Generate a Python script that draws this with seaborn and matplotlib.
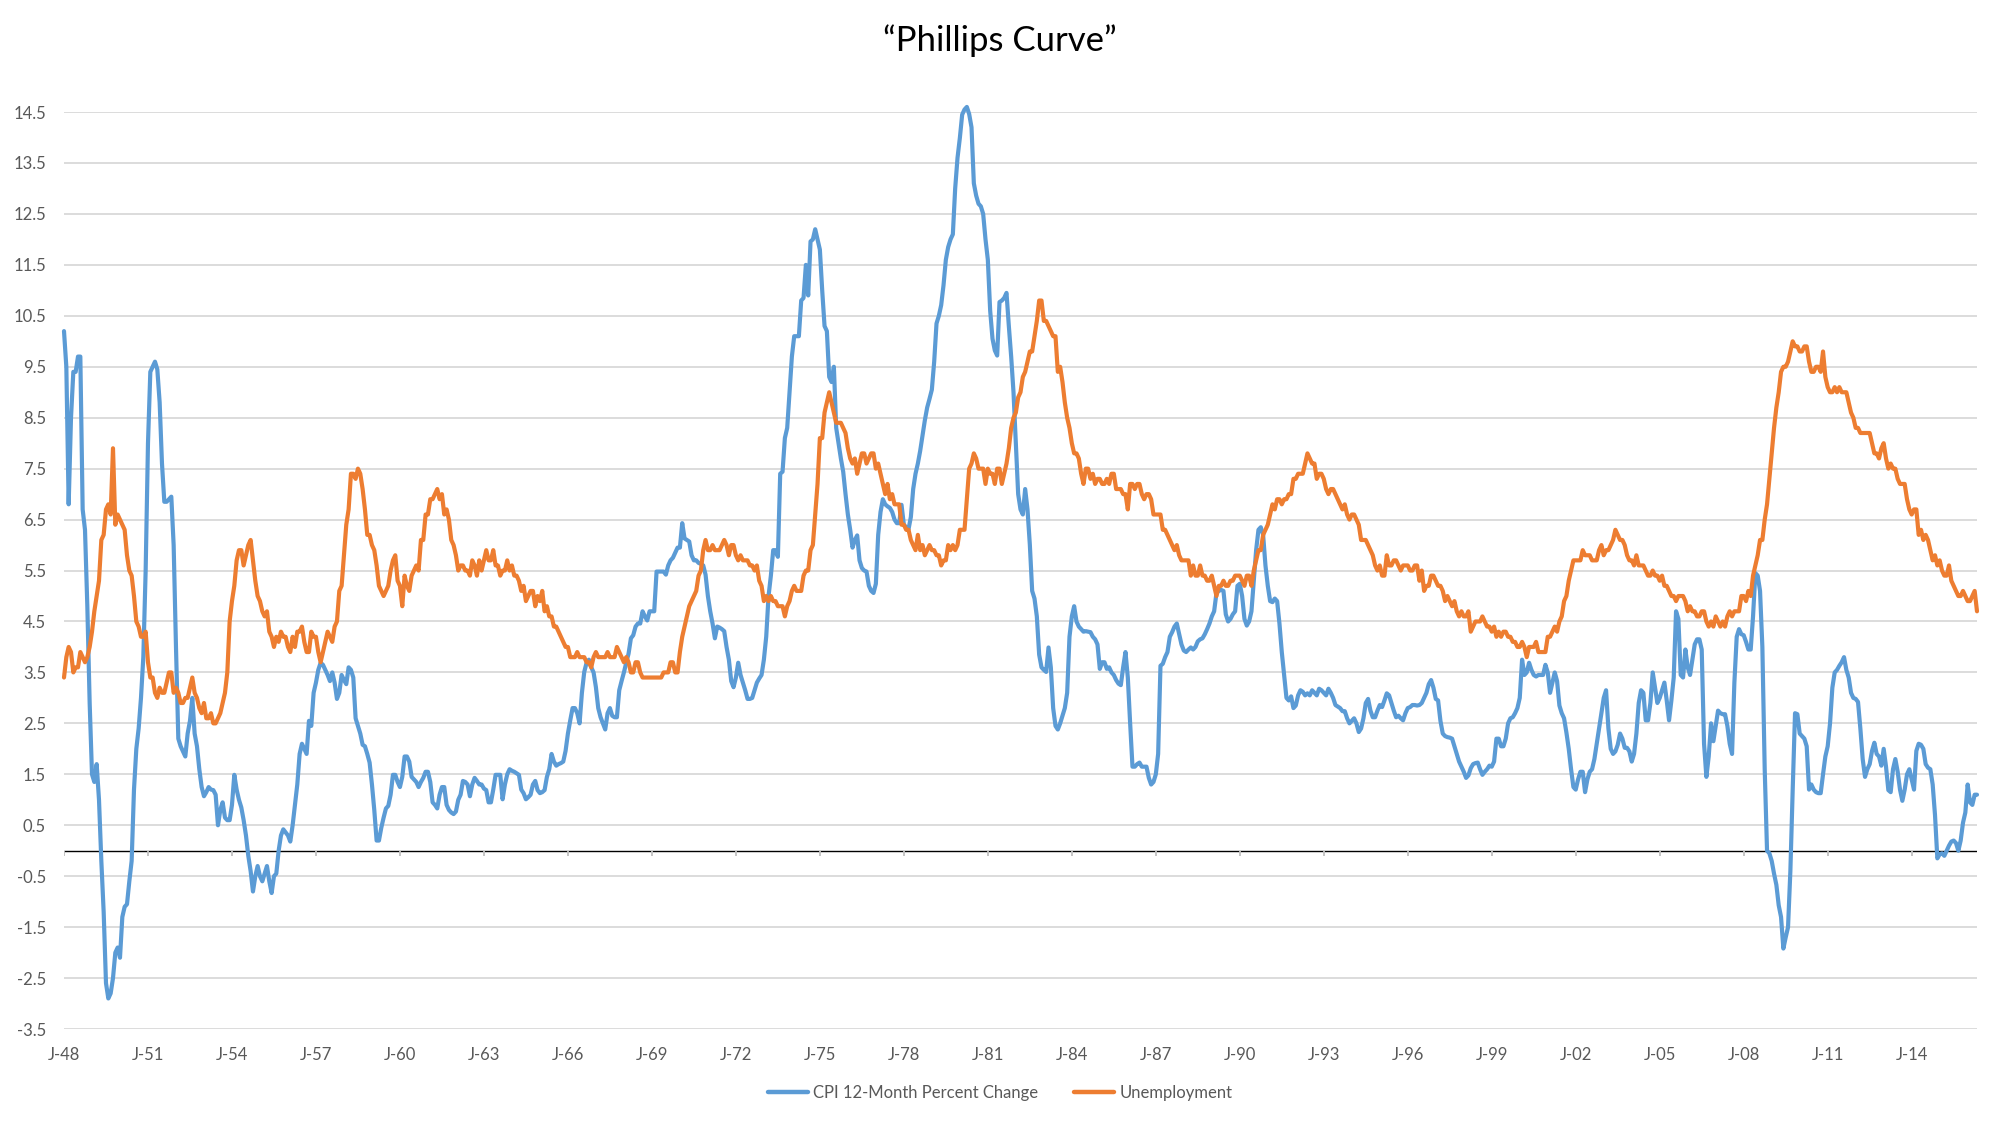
import numpy as np
import pandas as pd
import matplotlib
matplotlib.use("Agg")
import matplotlib.pyplot as plt
import seaborn as sns
from matplotlib.lines import Line2D

# ---------------- data (monthly, Jan 1948 - May 2016) ----------------
series_names = ["CPI 12-Month Percent Change", "Unemployment"]
tick_labels = ["J-48", "J-51", "J-54", "J-57", "J-60", "J-63", "J-66", "J-69",
               "J-72", "J-75", "J-78", "J-81", "J-84", "J-87", "J-90", "J-93",
               "J-96", "J-99", "J-02", "J-05", "J-08", "J-11", "J-14"]
y_ticks = [-3.5, -2.5, -1.5, -0.5, 0.5, 1.5, 2.5, 3.5, 4.5, 5.5, 6.5, 7.5,
           8.5, 9.5, 10.5, 11.5, 12.5, 13.5, 14.5]

cpi_1948_1957 = [
    10.2, 9.5, 6.8, 8.5, 9.4, 9.4, 9.7, 9.7, 6.7, 6.3, 4.8, 2.9,
    1.5, 1.35, 1.7, 1.0, -0.2, -1.2, -2.6, -2.9, -2.8, -2.5, -2.0, -1.9,
    -2.1, -1.3, -1.1, -1.05, -0.6, -0.2, 1.2, 2.0, 2.4, 3.0, 3.8, 5.5,
    8.0, 9.4, 9.5, 9.6, 9.45, 8.8, 7.6, 6.85, 6.85, 6.9, 6.95, 6.0,
    4.0, 2.2, 2.05, 1.95, 1.85, 2.3, 2.55, 3.0, 2.3, 2.05, 1.6, 1.25,
    1.07, 1.15, 1.25, 1.2, 1.19, 1.1, 0.5, 0.8, 0.95, 0.65, 0.6, 0.6,
    0.9, 1.49, 1.2, 1.0, 0.85, 0.6, 0.3, -0.1, -0.4, -0.8, -0.5, -0.3,
    -0.5, -0.6, -0.45, -0.3, -0.6, -0.83, -0.5, -0.45, 0.0, 0.3, 0.42, 0.36,
    0.3, 0.18, 0.5, 0.9, 1.3, 1.9, 2.1, 2.0, 1.9, 2.55, 2.45, 3.1,
    3.3, 3.55, 3.69, 3.65, 3.55, 3.45, 3.33, 3.5, 3.3, 2.98, 3.1, 3.45]
cpi_1958_1967 = [
    3.35, 3.27, 3.6, 3.55, 3.4, 2.6, 2.45, 2.3, 2.08, 2.05, 1.9, 1.73,
    1.3, 0.8, 0.2, 0.2, 0.45, 0.65, 0.83, 0.88, 1.1, 1.49, 1.49, 1.35,
    1.25, 1.45, 1.85, 1.85, 1.75, 1.45, 1.4, 1.35, 1.25, 1.35, 1.43, 1.55,
    1.55, 1.35, 0.95, 0.9, 0.83, 1.1, 1.25, 1.25, 0.9, 0.8, 0.75, 0.72,
    0.77, 1.0, 1.1, 1.37, 1.35, 1.3, 1.07, 1.3, 1.43, 1.37, 1.3, 1.3,
    1.22, 1.19, 0.95, 0.95, 1.2, 1.49, 1.49, 1.49, 1.01, 1.3, 1.5, 1.6,
    1.57, 1.55, 1.52, 1.49, 1.2, 1.13, 1.01, 1.05, 1.1, 1.3, 1.37, 1.19,
    1.13, 1.15, 1.19, 1.45, 1.6, 1.9, 1.75, 1.67, 1.7, 1.72, 1.75, 1.96,
    2.3, 2.56, 2.8, 2.8, 2.7, 2.5, 3.1, 3.51, 3.69, 3.75, 3.6, 3.5,
    3.21, 2.8, 2.62, 2.5, 2.38, 2.7, 2.8, 2.65, 2.62, 2.62, 3.15, 3.33]
cpi_1968_1977 = [
    3.5, 3.69, 3.87, 4.17, 4.23, 4.4, 4.46, 4.46, 4.7, 4.6, 4.52, 4.7,
    4.7, 4.7, 5.48, 5.48, 5.48, 5.48, 5.42, 5.6, 5.7, 5.75, 5.85, 5.95,
    5.95, 6.43, 6.13, 6.1, 6.07, 5.8, 5.7, 5.7, 5.65, 5.63, 5.6, 5.42,
    5.0, 4.7, 4.46, 4.17, 4.4, 4.38, 4.35, 4.31, 4.0, 3.75, 3.33, 3.21,
    3.4, 3.69, 3.45, 3.3, 3.15, 2.98, 2.98, 3.0, 3.15, 3.3, 3.38, 3.45,
    3.75, 4.2, 5.0, 5.4, 5.9, 5.9, 5.77, 7.4, 7.44, 8.1, 8.3, 9.0,
    9.7, 10.1, 10.1, 10.1, 10.8, 10.85, 11.5, 10.9, 11.96, 12.0, 12.2, 12.0,
    11.8, 11.0, 10.3, 10.2, 9.3, 9.2, 9.5, 8.3, 8.0, 7.7, 7.44, 7.0,
    6.6, 6.3, 5.95, 6.1, 6.19, 5.7, 5.55, 5.5, 5.48, 5.2, 5.1, 5.06,
    5.24, 6.2, 6.65, 6.9, 6.8, 6.76, 6.73, 6.65, 6.5, 6.43, 6.43, 6.79]
cpi_1978_1987 = [
    6.4, 6.35, 6.31, 6.55, 7.1, 7.4, 7.6, 7.85, 8.15, 8.45, 8.7, 8.87,
    9.05, 9.6, 10.35, 10.5, 10.71, 11.1, 11.6, 11.85, 12.0, 12.1, 13.0, 13.6,
    13.99, 14.45, 14.55, 14.6, 14.46, 14.2, 13.1, 12.86, 12.7, 12.65, 12.5, 12.0,
    11.6, 10.6, 10.05, 9.82, 9.72, 10.77, 10.8, 10.85, 10.95, 10.3, 9.7, 9.0,
    8.0, 7.0, 6.7, 6.6, 7.1, 6.7, 6.01, 5.1, 4.95, 4.6, 3.85, 3.6,
    3.55, 3.51, 3.99, 3.6, 2.8, 2.45, 2.38, 2.5, 2.65, 2.8, 3.1, 4.2,
    4.6, 4.8, 4.5, 4.4, 4.35, 4.3, 4.31, 4.3, 4.29, 4.2, 4.15, 4.05,
    3.57, 3.7, 3.7, 3.57, 3.6, 3.5, 3.45, 3.35, 3.28, 3.25, 3.6, 3.9,
    3.4, 2.5, 1.65, 1.65, 1.7, 1.73, 1.65, 1.65, 1.65, 1.43, 1.3, 1.35,
    1.5, 1.9, 3.63, 3.67, 3.8, 3.9, 4.2, 4.29, 4.4, 4.46, 4.25, 4.05]
cpi_1988_1997 = [
    3.93, 3.9, 3.95, 3.99, 3.95, 4.0, 4.11, 4.15, 4.17, 4.25, 4.35, 4.46,
    4.6, 4.7, 5.06, 5.1, 5.12, 5.1, 4.64, 4.5, 4.55, 4.64, 4.7, 5.2,
    5.24, 5.0, 4.55, 4.42, 4.5, 4.7, 5.3, 5.9, 6.3, 6.35, 6.2, 5.6,
    5.2, 4.9, 4.88, 4.95, 4.9, 4.46, 3.9, 3.45, 3.0, 2.95, 3.03, 2.8,
    2.85, 3.05, 3.15, 3.12, 3.05, 3.09, 3.05, 3.15, 3.1, 3.05, 3.18, 3.15,
    3.1, 3.05, 3.18, 3.1, 3.0, 2.86, 2.83, 2.8, 2.74, 2.74, 2.6, 2.5,
    2.55, 2.6, 2.5, 2.33, 2.4, 2.6, 2.9, 2.98, 2.75, 2.62, 2.62, 2.75,
    2.86, 2.82, 2.95, 3.09, 3.05, 2.9, 2.75, 2.62, 2.65, 2.6, 2.56, 2.7,
    2.8, 2.82, 2.86, 2.86, 2.85, 2.86, 2.9, 3.0, 3.1, 3.27, 3.35, 3.2,
    2.98, 2.95, 2.55, 2.3, 2.25, 2.23, 2.22, 2.2, 2.05, 1.9, 1.75, 1.65]
cpi_1998_2007 = [
    1.55, 1.43, 1.48, 1.62, 1.7, 1.72, 1.73, 1.6, 1.49, 1.55, 1.6, 1.67,
    1.65, 1.75, 2.2, 2.2, 2.05, 2.05, 2.2, 2.5, 2.6, 2.62, 2.7, 2.8,
    3.0, 3.75, 3.45, 3.5, 3.69, 3.55, 3.45, 3.42, 3.45, 3.45, 3.45, 3.65,
    3.5, 3.1, 3.3, 3.5, 3.33, 2.85, 2.7, 2.6, 2.32, 2.0, 1.6, 1.25,
    1.2, 1.4, 1.55, 1.55, 1.15, 1.4, 1.55, 1.6, 1.8, 2.1, 2.4, 2.7,
    3.0, 3.15, 2.4, 2.0, 1.9, 1.95, 2.08, 2.3, 2.2, 2.02, 2.02, 1.95,
    1.75, 1.9, 2.3, 2.9, 3.15, 3.1, 2.56, 2.56, 2.9, 3.5, 3.2, 2.9,
    3.0, 3.15, 3.3, 2.95, 2.56, 2.95, 3.4, 4.7, 4.55, 3.45, 3.4, 3.95,
    3.6, 3.45, 3.75, 4.05, 4.15, 4.15, 3.95, 2.1, 1.45, 1.85, 2.5, 2.15,
    2.45, 2.75, 2.7, 2.68, 2.68, 2.45, 2.1, 1.9, 3.3, 4.2, 4.35, 4.25]
cpi_2008_2016 = [
    4.23, 4.1, 3.95, 3.95, 4.6, 5.45, 5.4, 5.1, 4.0, 1.6, 0.0, -0.05,
    -0.2, -0.45, -0.67, -1.07, -1.3, -1.92, -1.7, -1.5, -0.4, 1.2, 2.7, 2.68,
    2.3, 2.25, 2.2, 2.05, 1.2, 1.3, 1.2, 1.15, 1.13, 1.13, 1.5, 1.85,
    2.05, 2.5, 3.2, 3.5, 3.55, 3.63, 3.7, 3.8, 3.55, 3.4, 3.1, 3.0,
    2.98, 2.92, 2.4, 1.8, 1.45, 1.6, 1.7, 1.96, 2.12, 1.9, 1.85, 1.67,
    2.0, 1.65, 1.19, 1.15, 1.6, 1.8, 1.55, 1.2, 0.98, 1.2, 1.5, 1.6,
    1.4, 1.2, 1.96, 2.1, 2.08, 2.0, 1.7, 1.63, 1.6, 1.3, 0.7, -0.15,
    -0.07, -0.05, -0.1, 0.0, 0.1, 0.18, 0.2, 0.15, 0.0, 0.2, 0.55, 0.75,
    1.3, 0.95, 0.9, 1.1, 1.1]

unemp_1948_1957 = [
    3.4, 3.8, 4.0, 3.9, 3.5, 3.6, 3.6, 3.9, 3.8, 3.7, 3.8, 4.0,
    4.3, 4.7, 5.0, 5.3, 6.1, 6.2, 6.7, 6.8, 6.6, 7.9, 6.4, 6.6,
    6.5, 6.4, 6.3, 5.8, 5.5, 5.4, 5.0, 4.5, 4.4, 4.2, 4.2, 4.3,
    3.7, 3.4, 3.4, 3.1, 3.0, 3.2, 3.1, 3.1, 3.3, 3.5, 3.5, 3.1,
    3.2, 3.1, 2.9, 2.9, 3.0, 3.0, 3.2, 3.4, 3.1, 3.0, 2.8, 2.7,
    2.9, 2.6, 2.6, 2.7, 2.5, 2.5, 2.6, 2.7, 2.9, 3.1, 3.5, 4.5,
    4.9, 5.2, 5.7, 5.9, 5.9, 5.6, 5.8, 6.0, 6.1, 5.7, 5.3, 5.0,
    4.9, 4.7, 4.6, 4.7, 4.3, 4.2, 4.0, 4.2, 4.1, 4.3, 4.2, 4.2,
    4.0, 3.9, 4.2, 4.0, 4.3, 4.3, 4.4, 4.1, 3.9, 3.9, 4.3, 4.2,
    4.2, 3.9, 3.7, 3.9, 4.1, 4.3, 4.2, 4.1, 4.4, 4.5, 5.1, 5.2]
unemp_1958_1967 = [
    5.8, 6.4, 6.7, 7.4, 7.4, 7.3, 7.5, 7.4, 7.1, 6.7, 6.2, 6.2,
    6.0, 5.9, 5.6, 5.2, 5.1, 5.0, 5.1, 5.2, 5.5, 5.7, 5.8, 5.3,
    5.2, 4.8, 5.4, 5.2, 5.1, 5.4, 5.5, 5.6, 5.5, 6.1, 6.1, 6.6,
    6.6, 6.9, 6.9, 7.0, 7.1, 6.9, 7.0, 6.6, 6.7, 6.5, 6.1, 6.0,
    5.8, 5.5, 5.6, 5.6, 5.5, 5.5, 5.4, 5.7, 5.6, 5.4, 5.7, 5.5,
    5.7, 5.9, 5.7, 5.7, 5.9, 5.6, 5.6, 5.4, 5.5, 5.5, 5.7, 5.5,
    5.6, 5.4, 5.4, 5.3, 5.1, 5.2, 4.9, 5.0, 5.1, 5.1, 4.8, 5.0,
    4.9, 5.1, 4.7, 4.8, 4.6, 4.6, 4.4, 4.4, 4.3, 4.2, 4.1, 4.0,
    4.0, 3.8, 3.8, 3.8, 3.9, 3.8, 3.8, 3.8, 3.7, 3.7, 3.6, 3.8,
    3.9, 3.8, 3.8, 3.8, 3.8, 3.9, 3.8, 3.8, 3.8, 4.0, 3.9, 3.8]
unemp_1968_1977 = [
    3.7, 3.8, 3.7, 3.5, 3.5, 3.7, 3.7, 3.5, 3.4, 3.4, 3.4, 3.4,
    3.4, 3.4, 3.4, 3.4, 3.4, 3.5, 3.5, 3.5, 3.7, 3.7, 3.5, 3.5,
    3.9, 4.2, 4.4, 4.6, 4.8, 4.9, 5.0, 5.1, 5.4, 5.5, 5.9, 6.1,
    5.9, 5.9, 6.0, 5.9, 5.9, 5.9, 6.0, 6.1, 6.0, 5.8, 6.0, 6.0,
    5.8, 5.7, 5.8, 5.7, 5.7, 5.7, 5.6, 5.6, 5.5, 5.6, 5.3, 5.2,
    4.9, 5.0, 4.9, 5.0, 4.9, 4.9, 4.8, 4.8, 4.8, 4.6, 4.8, 4.9,
    5.1, 5.2, 5.1, 5.1, 5.1, 5.4, 5.5, 5.5, 5.9, 6.0, 6.6, 7.2,
    8.1, 8.1, 8.6, 8.8, 9.0, 8.8, 8.6, 8.4, 8.4, 8.4, 8.3, 8.2,
    7.9, 7.7, 7.6, 7.7, 7.4, 7.6, 7.8, 7.8, 7.6, 7.7, 7.8, 7.8,
    7.5, 7.6, 7.4, 7.2, 7.0, 7.2, 6.9, 7.0, 6.8, 6.8, 6.8, 6.4]
unemp_1978_1987 = [
    6.4, 6.3, 6.3, 6.1, 6.0, 5.9, 6.2, 5.9, 6.0, 5.8, 5.9, 6.0,
    5.9, 5.9, 5.8, 5.8, 5.6, 5.7, 5.7, 6.0, 5.9, 6.0, 5.9, 6.0,
    6.3, 6.3, 6.3, 6.9, 7.5, 7.6, 7.8, 7.7, 7.5, 7.5, 7.5, 7.2,
    7.5, 7.4, 7.4, 7.2, 7.5, 7.5, 7.2, 7.4, 7.6, 7.9, 8.3, 8.5,
    8.6, 8.9, 9.0, 9.3, 9.4, 9.6, 9.8, 9.8, 10.1, 10.4, 10.8, 10.8,
    10.4, 10.4, 10.3, 10.2, 10.1, 10.1, 9.4, 9.5, 9.2, 8.8, 8.5, 8.3,
    8.0, 7.8, 7.8, 7.7, 7.4, 7.2, 7.5, 7.5, 7.3, 7.4, 7.2, 7.3,
    7.3, 7.2, 7.2, 7.3, 7.2, 7.4, 7.4, 7.1, 7.1, 7.1, 7.0, 7.0,
    6.7, 7.2, 7.2, 7.1, 7.2, 7.2, 7.0, 6.9, 7.0, 7.0, 6.9, 6.6,
    6.6, 6.6, 6.6, 6.3, 6.3, 6.2, 6.1, 6.0, 5.9, 6.0, 5.8, 5.7]
unemp_1988_1997 = [
    5.7, 5.7, 5.7, 5.4, 5.6, 5.4, 5.4, 5.6, 5.4, 5.4, 5.3, 5.3,
    5.4, 5.2, 5.0, 5.2, 5.2, 5.3, 5.2, 5.2, 5.3, 5.3, 5.4, 5.4,
    5.4, 5.3, 5.2, 5.4, 5.4, 5.2, 5.5, 5.7, 5.9, 5.9, 6.2, 6.3,
    6.4, 6.6, 6.8, 6.7, 6.9, 6.9, 6.8, 6.9, 6.9, 7.0, 7.0, 7.3,
    7.3, 7.4, 7.4, 7.4, 7.6, 7.8, 7.7, 7.6, 7.6, 7.3, 7.4, 7.4,
    7.3, 7.1, 7.0, 7.1, 7.1, 7.0, 6.9, 6.8, 6.7, 6.8, 6.6, 6.5,
    6.6, 6.6, 6.5, 6.4, 6.1, 6.1, 6.1, 6.0, 5.9, 5.8, 5.6, 5.5,
    5.6, 5.4, 5.4, 5.8, 5.6, 5.6, 5.7, 5.7, 5.6, 5.5, 5.6, 5.6,
    5.6, 5.5, 5.5, 5.6, 5.6, 5.3, 5.5, 5.1, 5.2, 5.2, 5.4, 5.4,
    5.3, 5.2, 5.2, 5.1, 4.9, 5.0, 4.9, 4.8, 4.9, 4.7, 4.6, 4.7]
unemp_1998_2007 = [
    4.6, 4.6, 4.7, 4.3, 4.4, 4.5, 4.5, 4.5, 4.6, 4.5, 4.4, 4.4,
    4.3, 4.4, 4.2, 4.3, 4.2, 4.3, 4.3, 4.2, 4.2, 4.1, 4.1, 4.0,
    4.0, 4.1, 4.0, 3.8, 4.0, 4.0, 4.0, 4.1, 3.9, 3.9, 3.9, 3.9,
    4.2, 4.2, 4.3, 4.4, 4.3, 4.5, 4.6, 4.9, 5.0, 5.3, 5.5, 5.7,
    5.7, 5.7, 5.7, 5.9, 5.8, 5.8, 5.8, 5.7, 5.7, 5.7, 5.9, 6.0,
    5.8, 5.9, 5.9, 6.0, 6.1, 6.3, 6.2, 6.1, 6.1, 6.0, 5.8, 5.7,
    5.7, 5.6, 5.8, 5.6, 5.6, 5.6, 5.5, 5.4, 5.4, 5.5, 5.4, 5.4,
    5.3, 5.4, 5.2, 5.2, 5.1, 5.0, 5.0, 4.9, 5.0, 5.0, 5.0, 4.9,
    4.7, 4.8, 4.7, 4.7, 4.6, 4.6, 4.7, 4.7, 4.5, 4.4, 4.5, 4.4,
    4.6, 4.5, 4.4, 4.5, 4.4, 4.6, 4.7, 4.6, 4.7, 4.7, 4.7, 5.0]
unemp_2008_2016 = [
    5.0, 4.9, 5.1, 5.0, 5.4, 5.6, 5.8, 6.1, 6.1, 6.5, 6.8, 7.3,
    7.8, 8.3, 8.7, 9.0, 9.4, 9.5, 9.5, 9.6, 9.8, 10.0, 9.9, 9.9,
    9.8, 9.8, 9.9, 9.9, 9.6, 9.4, 9.4, 9.5, 9.5, 9.4, 9.8, 9.3,
    9.1, 9.0, 9.0, 9.1, 9.0, 9.1, 9.0, 9.0, 9.0, 8.8, 8.6, 8.5,
    8.3, 8.3, 8.2, 8.2, 8.2, 8.2, 8.2, 8.0, 7.8, 7.8, 7.7, 7.9,
    8.0, 7.7, 7.5, 7.6, 7.5, 7.5, 7.3, 7.2, 7.2, 7.2, 6.9, 6.7,
    6.6, 6.7, 6.7, 6.2, 6.3, 6.1, 6.2, 6.1, 5.9, 5.7, 5.8, 5.6,
    5.7, 5.5, 5.4, 5.4, 5.6, 5.3, 5.2, 5.1, 5.0, 5.0, 5.1, 5.0,
    4.9, 4.9, 5.0, 5.1, 4.7]

cpi = np.concatenate([cpi_1948_1957, cpi_1958_1967, cpi_1968_1977, cpi_1978_1987,
                      cpi_1988_1997, cpi_1998_2007, cpi_2008_2016])
unemp = np.concatenate([unemp_1948_1957, unemp_1958_1967, unemp_1968_1977,
                        unemp_1978_1987, unemp_1988_1997, unemp_1998_2007,
                        unemp_2008_2016])
n = len(cpi)
months = np.arange(n)

df = pd.DataFrame({
    "month": np.concatenate([months, months]),
    "value": np.concatenate([cpi, unemp]),
    "series": [series_names[0]] * n + [series_names[1]] * len(unemp),
})

# ---------------- style ----------------
BLUE = "#5B9BD5"
ORANGE = "#ED7D31"
GREY_TXT = "#595959"
GRID = "#D9D9D9"

sns.set_style("white")
plt.rcParams["font.family"] = ["Lato", "DejaVu Sans"]

fig = plt.figure(figsize=(20, 11.25), dpi=100)
ax = fig.add_axes([0.032, 0.0853, 0.9565, 0.8151])

sns.lineplot(data=df, x="month", y="value", hue="series",
             palette={series_names[0]: BLUE, series_names[1]: ORANGE},
             hue_order=series_names, estimator=None, linewidth=3.0,
             legend=False, ax=ax, solid_joinstyle="round",
             solid_capstyle="round", zorder=3, clip_on=False)

ax.set_xlim(0, n - 1)
ax.set_ylim(y_ticks[0], y_ticks[-1])
ax.set_yticks(y_ticks)
ax.set_yticklabels([f"{v:.1f}" for v in y_ticks])
xtick_pos = np.arange(len(tick_labels)) * 36
ax.set_xticks(xtick_pos)
ax.set_xticklabels(tick_labels)
ax.set_xlabel("")
ax.set_ylabel("")

ax.grid(axis="y", color=GRID, linewidth=1.3)
ax.grid(axis="x", visible=False)
ax.set_axisbelow(True)
for s in ax.spines.values():
    s.set_visible(False)

ax.tick_params(axis="x", length=0, pad=13, labelsize=12, labelcolor=GREY_TXT)
ax.tick_params(axis="y", length=0, pad=13, labelsize=12, labelcolor=GREY_TXT)

# horizontal axis line at zero with small tick marks
ax.axhline(0, color="black", linewidth=1.0, zorder=2)
ax.vlines(xtick_pos, -0.11, 0, color="#BFBFBF", linewidth=1.3, zorder=2)

fig.text(0.5, 0.9636, "\u201cPhillips Curve\u201d", ha="center", va="center",
         fontsize=25, color="black")

handles = [Line2D([], [], color=BLUE, linewidth=3.2, solid_capstyle="round"),
           Line2D([], [], color=ORANGE, linewidth=3.2, solid_capstyle="round")]
fig.legend(handles, series_names, loc="center", bbox_to_anchor=(0.5, 0.0284),
           ncol=2, frameon=False, fontsize=12, handlelength=2.45,
           handletextpad=0.3, columnspacing=2.1, labelcolor=GREY_TXT)

fig.savefig("out.png", dpi=100)
